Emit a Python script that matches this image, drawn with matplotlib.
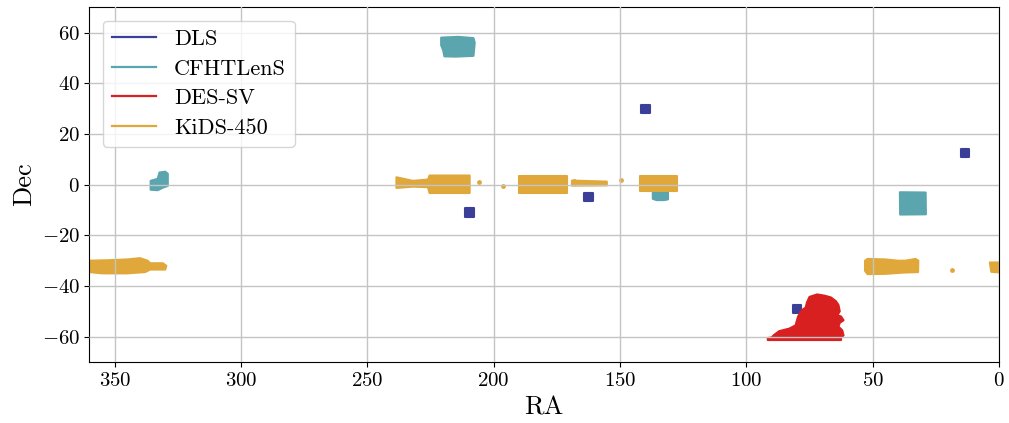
import numpy as np
import matplotlib.pyplot as plt
from matplotlib.lines import Line2D

plt.rcParams['font.family'] = ['cmr10', 'DejaVu Serif']
plt.rcParams['mathtext.fontset'] = 'cm'
plt.rcParams['axes.formatter.use_mathtext'] = True

surveys = ['DLS', 'CFHTLenS', 'DES-SV', 'KiDS-450']
colors = ['#3c3f98', '#5aa5ae', '#d92020', '#e0a83a']

# DLS fields: (ra_min, ra_max, dec_min, dec_max)
dls_fields = [
    (138.3, 141.7, 28.4, 31.6),
    (207.9, 211.3, -12.6, -9.4),
    (160.8, 164.2, -6.6, -3.3),
    (11.7, 15.1, 11.0, 14.2),
    (78.2, 81.6, -50.6, -47.4),
]

# CFHTLenS footprints (ra, dec) outlines
cfht_w1 = [(39.2, -3.0), (29.0, -3.1), (28.9, -11.7), (39.1, -11.8)]
cfht_w2 = [(137.0, -2.2), (131.0, -2.2), (131.0, -5.8), (132.5, -6.1),
           (135.5, -6.1), (137.0, -5.6)]
cfht_w3 = [(220.8, 58.0), (214.0, 58.3), (208.0, 57.8), (207.5, 56.0),
           (208.0, 50.8), (215.0, 50.5), (219.5, 50.6), (220.0, 53.0),
           (220.8, 55.0)]
cfht_w4 = [(335.8, -2.0), (335.8, 1.5), (333.0, 2.3), (332.3, 4.8),
           (330.0, 5.1), (329.0, 4.3), (329.0, -0.5), (331.0, -1.2),
           (333.0, -2.2)]

# DES-SV footprint outline
des_sv = [(91.5, -60.5), (91.5, -61.3), (62.5, -61.3), (62.5, -60.2),
          (61.5, -59.5), (62.0, -57.5), (63.5, -56.0), (63.0, -54.5),
          (61.5, -53.5), (62.5, -52.0), (64.0, -51.5), (63.0, -50.0),
          (63.5, -47.5), (64.5, -46.0), (66.5, -44.5), (69.0, -43.8),
          (72.0, -43.3), (75.0, -44.3), (76.0, -46.5), (76.5, -48.5),
          (78.0, -49.5), (79.5, -52.0), (80.5, -55.5), (83.0, -56.8),
          (87.0, -57.8), (89.0, -59.3), (90.0, -60.3)]

# KiDS-450 footprints
kids_south_a = [(360.0, -30.0), (352.0, -29.8), (345.0, -29.5), (340.0, -29.0),
                (337.0, -30.0), (336.0, -31.0), (331.0, -31.0), (329.6, -32.0),
                (330.0, -33.5), (336.0, -33.5), (338.0, -34.5), (345.0, -35.0),
                (355.0, -35.0), (360.0, -34.5)]
kids_south_b = [(53.0, -30.0), (52.0, -29.3), (45.0, -29.5), (40.0, -30.0),
                (37.0, -30.0), (33.0, -29.3), (31.9, -30.0), (32.0, -34.5),
                (38.0, -34.7), (45.0, -35.2), (52.0, -35.3), (53.0, -34.0)]
kids_south_c = [(3.6, -30.7), (0.0, -30.7), (0.0, -34.6), (3.0, -34.4)]
kids_g15 = [(238.5, -1.3), (238.5, 2.9), (232.0, 1.5), (226.0, 2.0),
            (225.4, 3.6), (209.5, 3.6), (209.5, -3.3), (225.4, -3.3),
            (226.0, -1.0), (232.0, -0.8)]
kids_g12 = [(189.8, 3.5), (171.0, 3.5), (171.0, -3.4), (189.8, -3.4)]
kids_g12_tail = [(169.0, 1.6), (155.2, 1.2), (155.2, -0.3), (169.0, -0.4)]
kids_g9 = [(142.0, 3.6), (127.5, 3.6), (127.5, -2.4), (142.0, -2.4)]
kids_dots_ra = [206.0, 196.3, 168.4, 149.6, 18.7]
kids_dots_dec = [0.9, -0.7, 1.3, 2.0, -33.7]

fig = plt.figure(figsize=(10.09, 4.23), dpi=100)
ax = fig.add_axes([0.0887, 0.144, 0.9013, 0.839])
ax.grid(True, color='#c4c4c4', linewidth=1.0, zorder=4)
ax.set_axisbelow(False)


def draw(poly, c):
    ra, dec = zip(*poly)
    ax.fill(ra, dec, facecolor=c, edgecolor=c, linewidth=1.5,
            joinstyle='round', zorder=2)


for r0, r1, d0, d1 in dls_fields:
    draw([(r0, d0), (r1, d0), (r1, d1), (r0, d1)], colors[0])
for p in [cfht_w1, cfht_w2, cfht_w3, cfht_w4]:
    draw(p, colors[1])
draw(des_sv, colors[2])
for p in [kids_south_a, kids_south_b, kids_south_c, kids_g15, kids_g12,
          kids_g12_tail, kids_g9]:
    draw(p, colors[3])
ax.scatter(kids_dots_ra, kids_dots_dec, s=12, color=colors[3], zorder=2,
           linewidths=0)

ax.set_xlim(360, 0)
ax.set_ylim(-70, 70)
ax.set_xticks([350, 300, 250, 200, 150, 100, 50, 0])
ax.set_yticks([-60, -40, -20, 0, 20, 40, 60])
ax.tick_params(labelsize=15)
ax.set_xlabel('RA', fontsize=19, labelpad=4)
ax.set_ylabel('Dec', fontsize=19, labelpad=4)

handles = [Line2D([], [], color=c, linewidth=1.6) for c in colors]
leg = ax.legend(handles, surveys, loc='upper left', fontsize=16,
                borderaxespad=0.6, handlelength=2.0, labelspacing=0.45)
leg.set_zorder(5)

fig.savefig('out.png', dpi=100)
